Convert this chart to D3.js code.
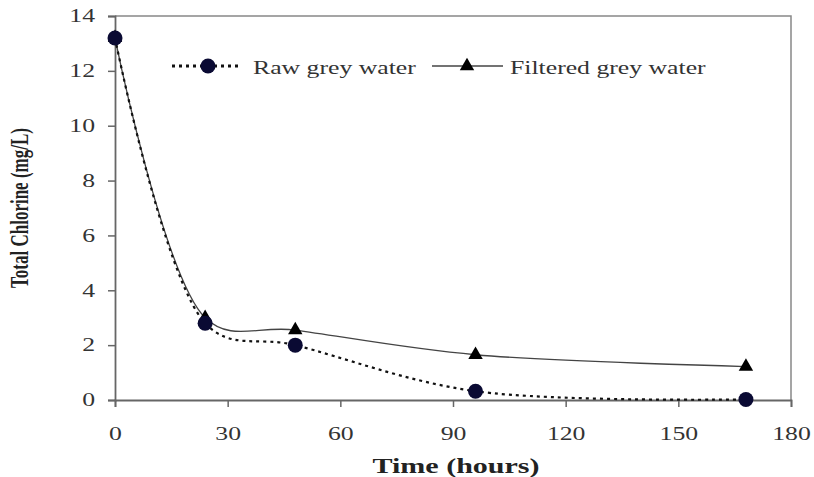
<!DOCTYPE html>
<html>
<head>
<meta charset="utf-8">
<script src="https://cdn.jsdelivr.net/npm/d3@7"></script>
<style>
  body { margin: 0; background: #fff; }
  text { font-family: "Liberation Serif", "Times New Roman", serif; }
</style>
</head>
<body>
<svg id="chart"></svg>
<script>
const width = 814, height = 477;

// data
const hours = [0, 24, 48, 96, 168];
const rawWater = [13.2, 2.8, 2.0, 0.32, 0.02];
const filteredWater = [13.2, 3.0, 2.55, 1.65, 1.22];
const xTicks = [0, 30, 60, 90, 120, 150, 180];
const yTicks = [0, 2, 4, 6, 8, 10, 12, 14];

const margin = {left: 115, right: 23, top: 16, bottom: 77};
const sx = 1.43; // the original text is stretched sideways

let svg = d3.select("#chart")
  .attr("width", width)
  .attr("height", height);

const x = d3.scaleLinear()
  .domain([0, 180])
  .range([margin.left, width - margin.right]);

const y = d3.scaleLinear()
  .domain([0, 14])
  .range([height - margin.bottom, margin.top]);

// frame (top + right)
svg.append("path")
  .attr("d", "M" + x(0) + "," + y(14) + "H" + x(180) + "V" + y(0))
  .attr("fill", "none")
  .attr("stroke", "#888")
  .attr("stroke-width", 1.5);

// axes
const xAxis = svg.append("g")
  .attr("transform", "translate(0," + y(0) + ")")
  .call(d3.axisBottom(x).tickValues(xTicks).tickSize(7).tickPadding(20));

const yAxis = svg.append("g")
  .attr("transform", "translate(" + x(0) + ",0)")
  .call(d3.axisLeft(y).tickValues(yTicks).tickSize(7).tickPadding(13));

[xAxis, yAxis].forEach(function (g) {
  g.select(".domain").attr("stroke", "#666").attr("stroke-width", 1.8);
  g.selectAll(".tick line").attr("stroke", "#666").attr("stroke-width", 1.5);
  g.selectAll(".tick text")
    .style("font-family", "Liberation Serif")
    .style("font-size", "18px")
    .attr("fill", "#333")
    .attr("x", function () { return +d3.select(this).attr("x") / sx; })
    .attr("transform", "scale(" + sx + ",1)");
});

// axis titles
svg.append("text")
  .attr("transform", "translate(" + (x(90) + 3) + ",473) scale(" + sx + ",1)")
  .attr("text-anchor", "middle")
  .style("font-size", "21px")
  .style("font-weight", "bold")
  .attr("fill", "#222")
  .text("Time (hours)");

svg.append("text")
  .attr("transform", "translate(28," + y(7) + ") scale(" + sx + ",1) rotate(-90)")
  .attr("text-anchor", "middle")
  .style("font-size", "17px")
  .style("font-weight", "bold")
  .attr("fill", "#222")
  .text("Total Chlorine (mg/L)");

const line = d3.line()
  .x(d => x(d[0]))
  .y(d => y(d[1]))
  .curve(d3.curveCatmullRom.alpha(0.4));

const rawPts = hours.map((h, i) => [h, rawWater[i]]);
const filtPts = hours.map((h, i) => [h, filteredWater[i]]);

// filtered: thin solid line with triangles
svg.append("path")
  .datum(filtPts)
  .attr("d", line)
  .attr("fill", "none")
  .attr("stroke", "#444")
  .attr("stroke-width", 1.3);

// raw: dotted line with circles
svg.append("path")
  .datum(rawPts)
  .attr("d", line)
  .attr("fill", "none")
  .attr("stroke", "#111")
  .attr("stroke-width", 2.2)
  .attr("stroke-dasharray", "3,4");

const tri = d3.symbol().type(d3.symbolTriangle).size(90);

svg.selectAll(".tri")
  .data(filtPts)
  .join("path")
  .attr("class", "tri")
  .attr("d", tri)
  .attr("transform", d => "translate(" + x(d[0]) + "," + y(d[1]) + ")")
  .attr("fill", "#000");

svg.selectAll(".dot")
  .data(rawPts)
  .join("circle")
  .attr("class", "dot")
  .attr("cx", d => x(d[0]))
  .attr("cy", d => y(d[1]))
  .attr("r", 7.5)
  .attr("fill", "#0a0a33");

// legend
const legY = 66;
svg.append("line")
  .attr("x1", 172).attr("x2", 240)
  .attr("y1", legY).attr("y2", legY)
  .attr("stroke", "#111")
  .attr("stroke-width", 3)
  .attr("stroke-dasharray", "3,4");
svg.append("circle")
  .attr("cx", 208).attr("cy", legY).attr("r", 7.5)
  .attr("fill", "#0a0a33");
svg.append("text")
  .attr("transform", "translate(253," + (legY + 8) + ") scale(" + sx + ",1)")
  .style("font-size", "18px")
  .attr("fill", "#333")
  .text("Raw grey water");

svg.append("line")
  .attr("x1", 432).attr("x2", 503)
  .attr("y1", legY).attr("y2", legY)
  .attr("stroke", "#444")
  .attr("stroke-width", 1.3);
svg.append("path")
  .attr("d", tri)
  .attr("transform", "translate(467," + legY + ")")
  .attr("fill", "#000");
svg.append("text")
  .attr("transform", "translate(510," + (legY + 8) + ") scale(" + sx + ",1)")
  .style("font-size", "18px")
  .attr("fill", "#333")
  .text("Filtered grey water");
</script>
</body>
</html>
